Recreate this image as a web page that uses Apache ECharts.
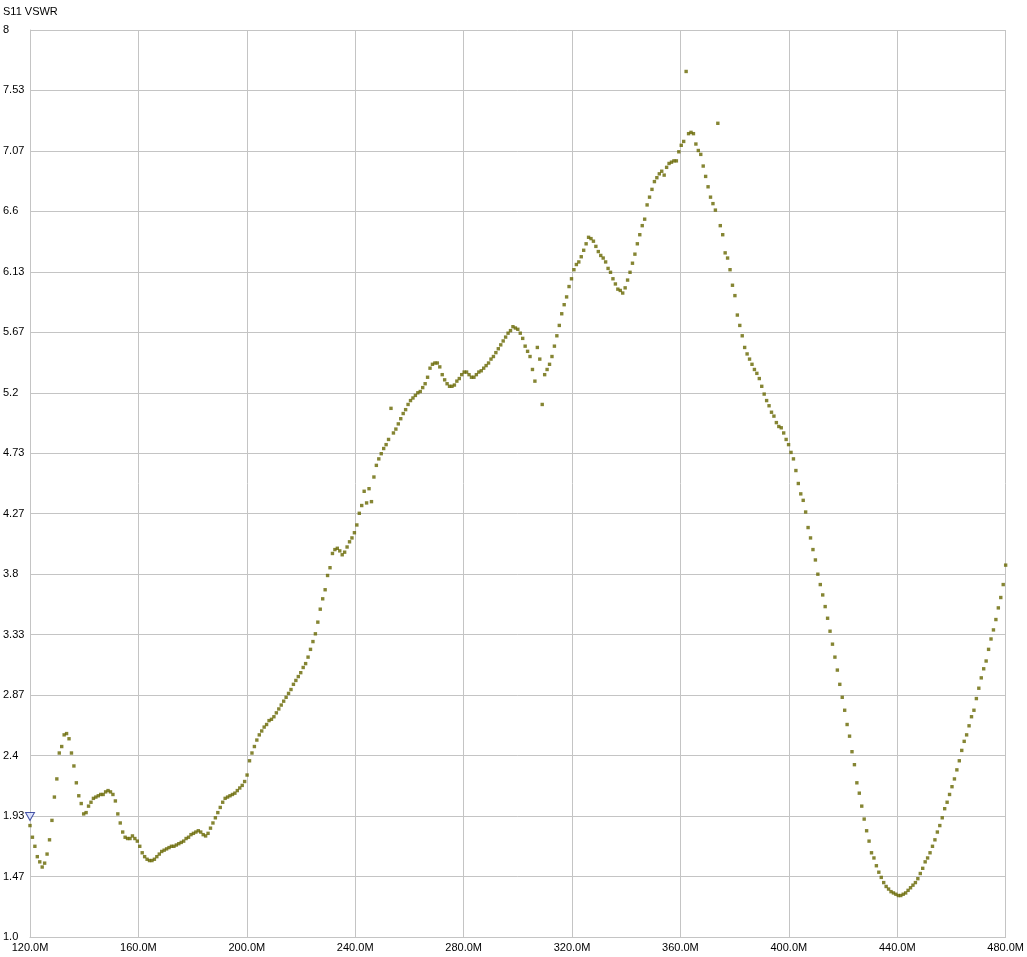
<!DOCTYPE html>
<html><head><meta charset="utf-8">
<script src="https://cdn.jsdelivr.net/npm/echarts@6/dist/echarts.min.js"></script>
<style>html,body{margin:0;padding:0;background:#fff}#c{width:1027px;height:957px}</style>
</head><body><div id="c"></div>
<script>
const START_MHZ = 120;
const STEP_MHZ = 0.9;
const vswr = [
1.86,1.77,1.70,1.62,1.58,1.54,1.57,1.64,1.75,1.90,
2.08,2.22,2.42,2.47,2.56,2.57,2.53,2.42,2.32,2.19,
2.09,2.03,1.95,1.96,2.01,2.04,2.07,2.08,2.09,2.10,
2.10,2.12,2.13,2.12,2.10,2.05,1.95,1.88,1.81,1.77,
1.76,1.76,1.78,1.76,1.74,1.70,1.65,1.62,1.60,1.59,
1.59,1.60,1.62,1.64,1.66,1.67,1.68,1.69,1.70,1.70,
1.71,1.72,1.73,1.74,1.76,1.77,1.79,1.80,1.81,1.82,
1.81,1.79,1.78,1.80,1.84,1.88,1.92,1.96,2.00,2.04,
2.07,2.08,2.09,2.10,2.11,2.13,2.15,2.17,2.20,2.25,
2.36,2.42,2.47,2.52,2.56,2.59,2.62,2.64,2.67,2.68,
2.70,2.73,2.76,2.79,2.82,2.85,2.88,2.91,2.95,2.98,
3.01,3.04,3.08,3.11,3.16,3.22,3.28,3.34,3.43,3.53,
3.61,3.68,3.79,3.85,3.96,3.99,4.00,3.98,3.95,3.97,
4.01,4.05,4.08,4.12,4.18,4.27,4.33,4.44,4.35,4.46,
4.36,4.55,4.64,4.69,4.73,4.77,4.80,4.84,5.08,4.89,
4.92,4.96,5.00,5.04,5.07,5.11,5.14,5.16,5.18,5.20,
5.21,5.24,5.27,5.32,5.39,5.42,5.43,5.43,5.40,5.34,
5.30,5.27,5.25,5.25,5.26,5.29,5.31,5.34,5.36,5.36,
5.34,5.32,5.32,5.34,5.36,5.37,5.39,5.41,5.43,5.46,
5.48,5.51,5.54,5.57,5.60,5.63,5.66,5.68,5.71,5.70,
5.69,5.66,5.62,5.56,5.52,5.48,5.38,5.29,5.55,5.46,
5.11,5.34,5.38,5.42,5.48,5.56,5.64,5.72,5.81,5.88,
5.94,6.02,6.08,6.15,6.19,6.21,6.25,6.30,6.35,6.40,
6.39,6.37,6.33,6.29,6.26,6.24,6.21,6.16,6.13,6.08,
6.04,6.00,5.99,5.97,6.01,6.07,6.13,6.20,6.27,6.35,
6.42,6.49,6.54,6.65,6.71,6.77,6.83,6.86,6.89,6.91,
6.88,6.94,6.97,6.98,6.99,6.99,7.06,7.11,7.14,7.68,
7.20,7.21,7.20,7.12,7.07,7.04,6.95,6.87,6.79,6.71,
6.66,6.61,7.28,6.49,6.42,6.28,6.24,6.15,6.03,5.95,
5.80,5.72,5.64,5.55,5.50,5.46,5.42,5.38,5.35,5.31,
5.25,5.19,5.14,5.10,5.05,5.02,4.97,4.94,4.93,4.89,
4.84,4.80,4.74,4.69,4.60,4.50,4.42,4.37,4.28,4.16,
4.08,3.99,3.91,3.80,3.72,3.64,3.55,3.46,3.36,3.26,
3.16,3.06,2.95,2.85,2.75,2.64,2.55,2.43,2.33,2.19,
2.11,2.01,1.91,1.82,1.74,1.65,1.61,1.55,1.50,1.46,
1.42,1.39,1.37,1.35,1.34,1.33,1.32,1.32,1.33,1.34,
1.36,1.38,1.40,1.42,1.45,1.49,1.53,1.58,1.61,1.65,
1.70,1.75,1.81,1.86,1.92,1.99,2.04,2.10,2.16,2.22,
2.29,2.36,2.44,2.51,2.56,2.63,2.70,2.75,2.84,2.92,
3.00,3.07,3.13,3.22,3.30,3.37,3.45,3.54,3.62,3.72,3.87
];
const yTickLabels = ['1.0','1.47','1.93','2.4','2.87','3.33','3.8','4.27','4.73','5.2','5.67','6.13','6.6','7.07','7.53','8'];
const xTickLabels = ['120.0M','160.0M','200.0M','240.0M','280.0M','320.0M','360.0M','400.0M','440.0M','480.0M'];
const markerFreq = [120];
const markerVswr = [1.93];
const title = 'S11 VSWR';

const X_MIN = 120, X_MAX = 480, X_INT = 40;
const Y_MIN = 1, Y_MAX = 8, Y_INT = 7 / 15;

const points = vswr.map((v, i) => [START_MHZ + i * STEP_MHZ, v]);
const markerPts = markerFreq.map((f, i) => [f, markerVswr[i]]);

const chart = echarts.init(document.getElementById('c'), null, {renderer: 'canvas'});
const gridColor = '#c4c4c4';
const font = 'Liberation Sans';
chart.setOption({
  animation: false,
  backgroundColor: '#ffffff',
  title: {
    text: title, left: 3, top: 6, padding: 0,
    textStyle: {fontFamily: font, fontSize: 11, fontWeight: 'normal', color: '#000'}
  },
  grid: {left: 30, top: 30, width: 977, height: 907, containLabel: false},
  xAxis: {
    type: 'value', min: X_MIN, max: X_MAX, interval: X_INT,
    axisLine: {show: true, lineStyle: {color: gridColor, width: 1}},
    axisTick: {show: false},
    splitLine: {show: true, showMinLine: true, showMaxLine: true, lineStyle: {color: gridColor, width: 1}},
    axisLabel: {
      margin: 5, color: '#000', fontFamily: font, fontSize: 11,
      formatter: v => xTickLabels[Math.round((v - X_MIN) / X_INT)] || ''
    }
  },
  yAxis: {
    type: 'value', min: Y_MIN, max: Y_MAX, interval: Y_INT,
    axisLine: {show: true, lineStyle: {color: gridColor, width: 1}},
    axisTick: {show: false},
    splitLine: {show: true, showMinLine: true, showMaxLine: true, lineStyle: {color: gridColor, width: 1}},
    axisLabel: {
      margin: 27, align: 'left', color: '#000', fontFamily: font, fontSize: 11,
      formatter: v => yTickLabels[Math.round((v - Y_MIN) / Y_INT)] || ''
    }
  },
  series: [
    {
      type: 'scatter', data: points, symbol: 'rect', symbolSize: 3.4,
      itemStyle: {color: '#666600'}, silent: true
    },
    {
      type: 'scatter', data: markerPts, symbol: 'triangle', symbolRotate: 180,
      symbolSize: [9, 8], z: 5,
      itemStyle: {color: '#d8e0ff', borderColor: '#1a2a90', borderWidth: 1}, silent: true
    }
  ]
});
</script>
</body></html>
